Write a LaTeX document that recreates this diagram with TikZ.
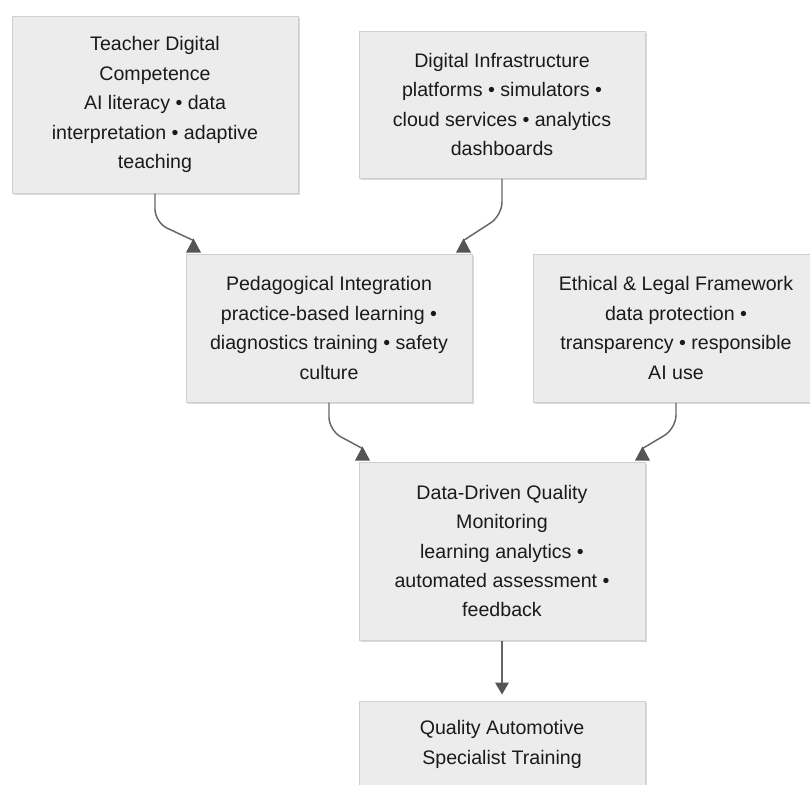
\documentclass[tikz,border=0pt]{standalone}
\usepackage{fontspec}
\setmainfont{Liberation Sans}
\usetikzlibrary{calc,shadows}
\definecolor{boxfill}{HTML}{ECECEC}
\definecolor{boxline}{HTML}{D0D0D0}
\definecolor{inkc}{HTML}{1A1A1A}
\definecolor{linkc}{HTML}{666666}
\definecolor{tipc}{HTML}{555555}
\tikzset{
  box/.style={draw=boxline, line width=0.75pt, fill=boxfill, inner sep=0pt,
    minimum width=214.5pt, align=center, text=inkc,
    font=\fontsize{14.7}{22.1}\selectfont,
    drop shadow={shadow xshift=1.2pt, shadow yshift=-1.8pt, opacity=0.15, fill=black}},
  link/.style={draw=linkc, line width=1.1pt, rounded corners=10pt},
}
% arrowhead sitting on a box top, pointing up (base at the given point)
\newcommand\tipup[1]{\fill[tipc] (#1) ++(-7.5,0) -- ++(15,0) -- ++(-7.5,-14) -- cycle;}
% arrowhead pointing down, base at the given point
\newcommand\tipdown[1]{\fill[tipc] (#1) ++(-7,0) -- ++(14,0) -- ++(-7,12) -- cycle;}
\begin{document}
\begin{tikzpicture}[x=0.75pt,y=-0.75pt]
\useasboundingbox (0,0) rectangle (810,785);
\clip (0,0) rectangle (810,785);
\fill[white] (0,0) rectangle (810,785);

\node[box, minimum height=132.75pt] (tdc) at (155,104.5)
  {Teacher Digital\\Competence\\AI literacy • data\\interpretation • adaptive\\teaching};
\node[box, minimum height=110.25pt] (dinf) at (502,104.5)
  {Digital Infrastructure\\platforms • simulators •\\cloud services • analytics\\dashboards};
\node[box, minimum height=111pt] (ped) at (329,328)
  {Pedagogical Integration\\practice-based learning •\\diagnostics training • safety\\culture};
\node[box, minimum height=111pt] (eth) at (676,328)
  {Ethical \& Legal Framework\\data protection •\\transparency • responsible\\AI use};
\node[box, minimum height=133.5pt] (ddq) at (502,551)
  {Data-Driven Quality\\Monitoring\\learning analytics •\\automated assessment •\\feedback};
\node[box, minimum height=65.25pt] (qas) at (502,744.5)
  {Quality Automotive\\Specialist Training};

% landing points of the connectors on the box tops
\coordinate (inA) at ($(ped.north west)+(8,-1)$);
\coordinate (inB) at ($(ped.north east)+(-9,-1)$);
\coordinate (inC) at ($(ddq.north west)+(4,-1)$);
\coordinate (inD) at ($(ddq.north east)+(-3,-1)$);
\coordinate (inE) at ($(qas.north)+(0,-18)$);

\draw[link] (tdc.south) -- ++(0,29) -- ($(inA)+(0,-12)$);
\draw[link] (dinf.south) -- ++(0,37) -- ($(inB)+(0,-12)$);
\draw[link] (ped.south) -- ++(0,28) -- ($(inC)+(0,-12)$);
\draw[link] (eth.south) -- ++(0,26) -- ($(inD)+(0,-12)$);
\draw[link] (ddq.south) -- (inE);

\tipup{inA}
\tipup{inB}
\tipup{inC}
\tipup{inD}
\tipdown{inE}
\end{tikzpicture}
\end{document}
